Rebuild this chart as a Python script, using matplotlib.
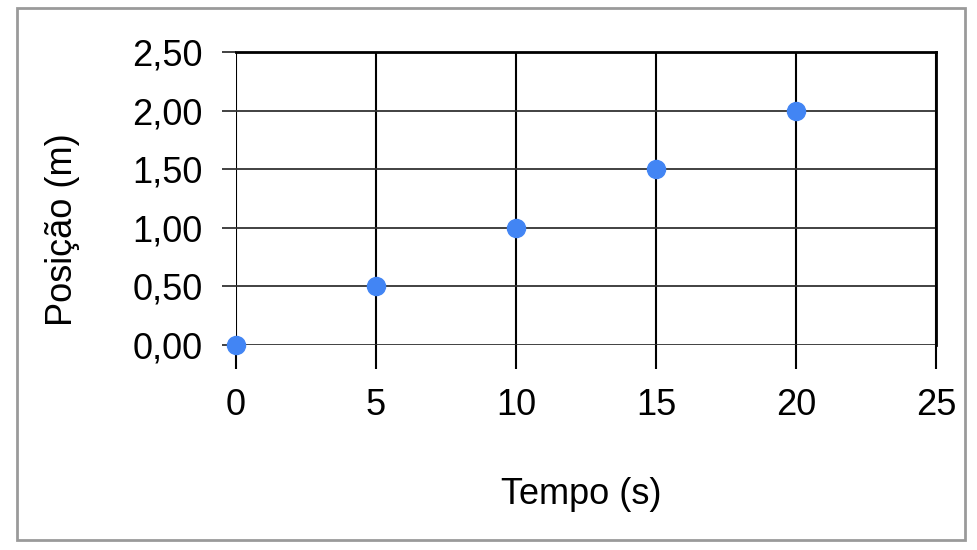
import matplotlib
matplotlib.use("Agg")
import matplotlib.pyplot as plt
import matplotlib.patches as patches
from matplotlib.ticker import FuncFormatter

plt.rcParams['font.family'] = ['Liberation Sans', 'DejaVu Sans']

# data
tempo = [0, 5, 10, 15, 20]
posicao = [0.0, 0.5, 1.0, 1.5, 2.0]
x_ticks = [0, 5, 10, 15, 20, 25]
y_ticks = [0.0, 0.5, 1.0, 1.5, 2.0, 2.5]

W, H = 978, 550
fig = plt.figure(figsize=(W / 100, H / 100), dpi=100, facecolor='white')

# outer gray frame
fig.patches.append(patches.Rectangle((17 / W, 1 - 540 / H), (965 - 17) / W, (540 - 8) / H,
                                     transform=fig.transFigure, fill=False,
                                     edgecolor='#9a9a9a', linewidth=2))

ax = fig.add_axes([236 / W, 1 - 345 / H, (936 - 236) / W, (345 - 52) / H])
ax.set_xlim(0, 25)
ax.set_ylim(0, 2.5)
ax.set_xticks(x_ticks)
ax.set_yticks(y_ticks)
ax.yaxis.set_major_formatter(FuncFormatter(lambda v, p: f"{v:.2f}".replace('.', ',')))

ax.grid(True, axis='x', color='black', linewidth=1.5)
ax.grid(True, axis='y', color='#333333', linewidth=1.3)
ax.set_axisbelow(True)
for s in ['left', 'bottom']:
    ax.spines[s].set_visible(False)
ax.spines['top'].set_color('black')
ax.spines['top'].set_linewidth(2)
ax.spines['right'].set_color('black')
ax.spines['right'].set_linewidth(2)

ax.tick_params(axis='x', length=17, width=1.5, color='black', pad=14, labelsize=26)
ax.tick_params(axis='y', length=10, width=1.3, color='#333333', pad=14, labelsize=26)

ax.plot(tempo, posicao, 'o', color='#4285F4', markersize=13, clip_on=False, zorder=3)

fig.text(63 / W, 1 - 230 / H, 'Posição (m)', rotation=90, ha='center', va='center', fontsize=26)
fig.text(581 / W, 1 - 494 / H, 'Tempo (s)', ha='center', va='center', fontsize=26)

fig.savefig('out.png', dpi=100, facecolor='white')
